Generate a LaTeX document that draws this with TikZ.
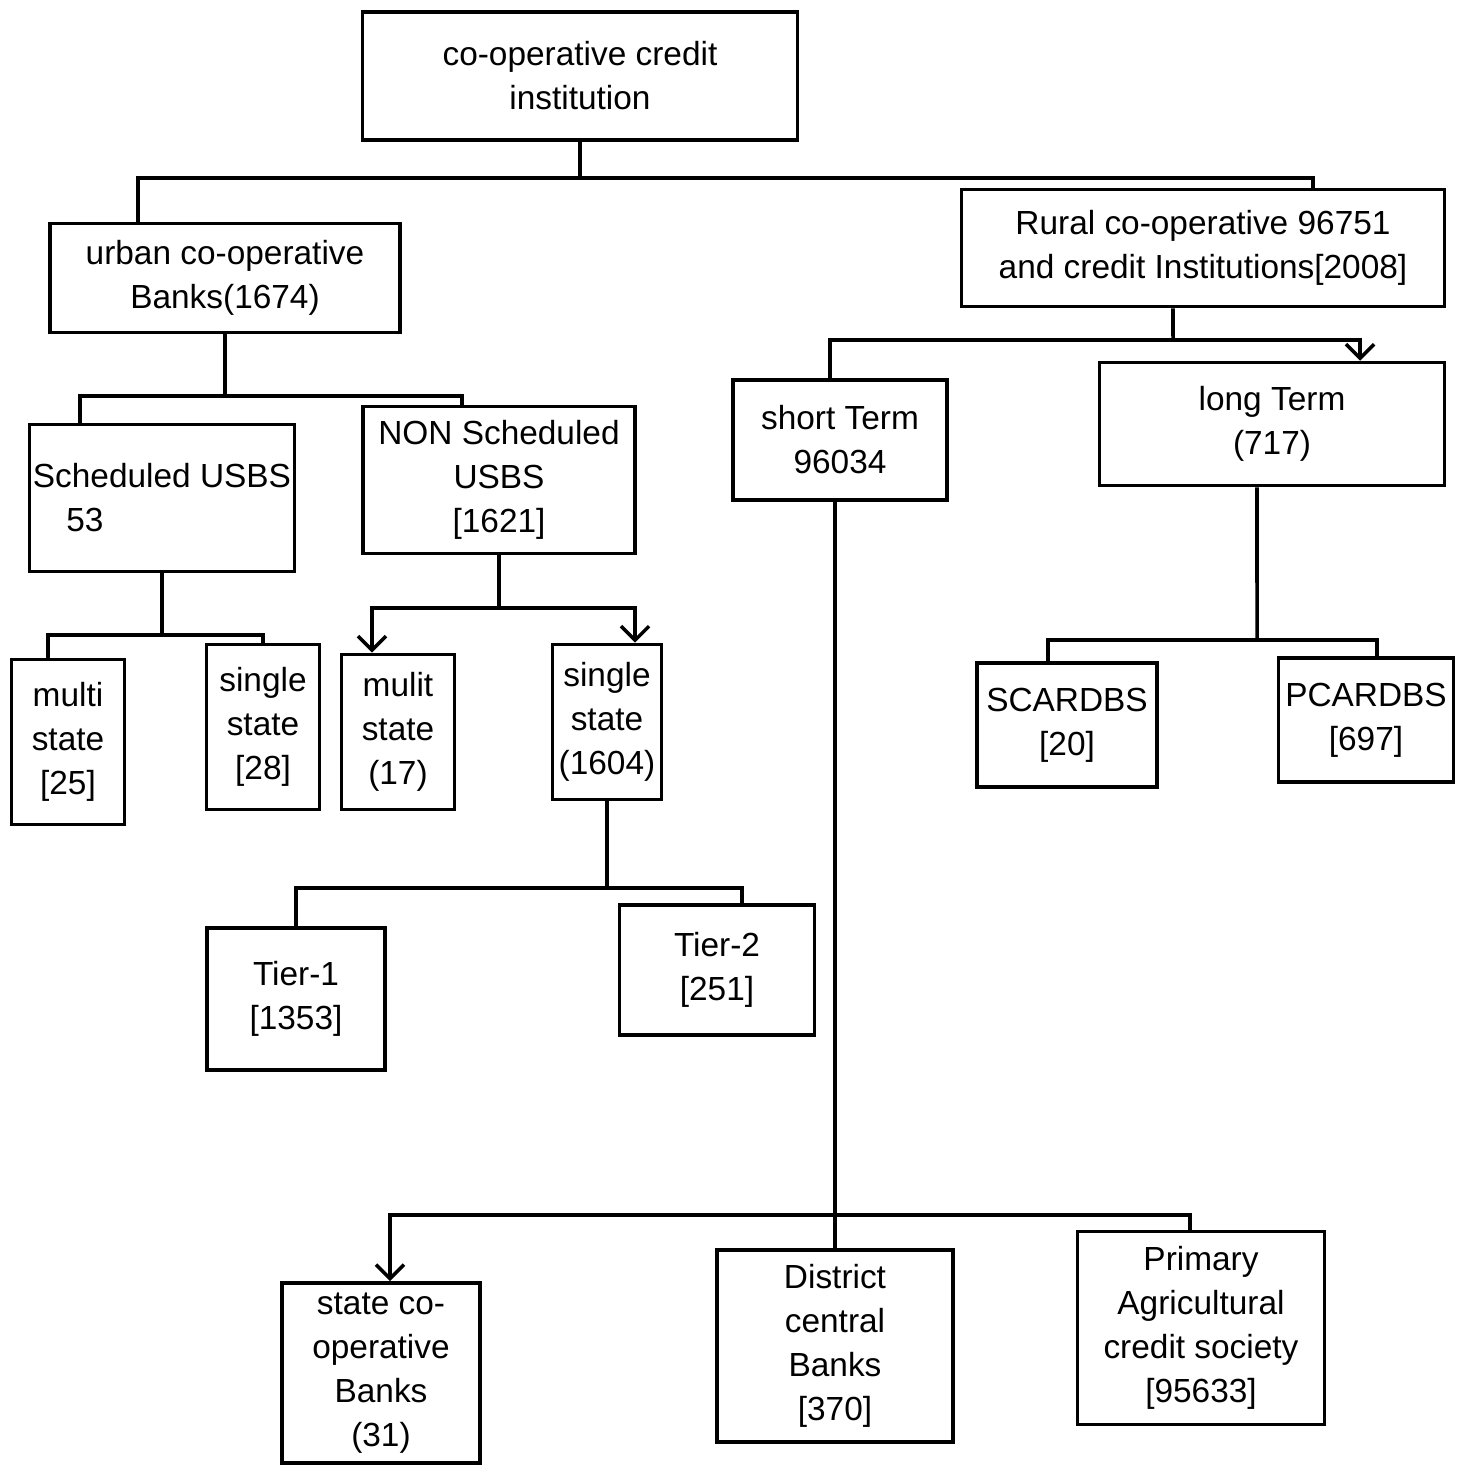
\documentclass[tikz,border=0pt]{standalone}
\usepackage{fontspec}
\setmainfont{Liberation Sans}
\usetikzlibrary{arrows.meta}

\begin{document}
\begin{tikzpicture}[x=0.01cm, y=-0.01cm, line width=1pt,
	box/.style={draw, rectangle, align=center, inner sep=1pt, font=\fontsize{9.5}{12.5}\selectfont},
	pointer/.style={-{Straight Barb[length=4pt]}}]
			\useasboundingbox (0,0) rectangle (1457,1466);
			\node[box, minimum width=4.35cm, minimum height=1.28cm] (root)     at (580 ,   76)  {co-operative credit\\ institution};
			\node[box, minimum width=3.50cm, minimum height=1.09cm] (urban)    at (225 ,  278)  {urban co-operative\\ Banks(1674)};
			\node[box, minimum width=4.83cm, minimum height=1.17cm] (rural)    at (1203,  248)  {Rural co-operative 96751\\ and credit Institutions[2008]};
			\node[box, minimum width=2.65cm, minimum height=1.47cm, align=left] (sched) at (162, 498) {Scheduled USBS\\ \quad 53};
			\node[box, minimum width=2.72cm, minimum height=1.47cm] (nonsched) at (499 ,  480)  {NON Scheduled\\ USBS\\ {[1621]}};
			\node[box, minimum width=1.13cm, minimum height=1.65cm] (multiA)   at (68  ,  742)  {multi\\ state\\ {[25]}};
			\node[box, minimum width=1.13cm, minimum height=1.65cm] (singleA)  at (263 ,  727)  {single\\ state\\ {[28]}};
			\node[box, minimum width=1.13cm, minimum height=1.55cm] (multiB)   at (398 ,  732)  {mulit\\ state\\ (17)};
			\node[box, minimum width=1.09cm, minimum height=1.55cm] (singleB)  at (607 ,  722)  {single\\ state\\ (1604)};
			\node[box, minimum width=1.78cm, minimum height=1.42cm] (tierA)    at (296 ,  999)  {Tier-1\\ {[1353]}};
			\node[box, minimum width=1.95cm, minimum height=1.30cm] (tierB)    at (717 ,  970)  {Tier-2\\ {[251]}};
			\node[box, minimum width=2.14cm, minimum height=1.20cm] (short)    at (840 ,  440)  {short Term\\ 96034};
			\node[box, minimum width=3.45cm, minimum height=1.23cm] (long)     at (1272,  424)  {long Term\\ (717)};
			\node[box, minimum width=1.80cm, minimum height=1.24cm] (scardbs)  at (1067,  725)  {SCARDBS\\ {[20]}};
			\node[box, minimum width=1.75cm, minimum height=1.24cm] (pcardbs)  at (1366,  720)  {PCARDBS\\ {[697]}};
			\node[box, minimum width=1.98cm, minimum height=1.80cm] (state)    at (381 , 1373)  {state co-\\ operative\\ Banks\\ (31)};
			\node[box, minimum width=2.36cm, minimum height=1.92cm] (district) at (835 , 1346)  {District\\ central\\ Banks\\ {[370]}};
			\node[box, minimum width=2.47cm, minimum height=1.93cm] (primary)  at (1201, 1328)  {Primary\\ Agricultural\\ credit society\\ {[95633]}};
			
			% branch points
			\coordinate (j1) at (580 ,  178);
			\coordinate (j2) at (225 ,  396);
			\coordinate (j3) at (162 ,  635);
			\coordinate (j4) at (499 ,  608);
			\coordinate (j5) at (607 ,  888);
			\coordinate (j6) at (1173,  340);
			\coordinate (j7) at (1257,  640);
			\coordinate (j8) at (835 , 1215);
			
			\def\stems {root/j1/0, urban/j2/0, sched/j3/0, nonsched/j4/0, singleB/j5/0, rural/j6/-0.3, long/j7/-0.15, short/j8/-0.05}  % down to branch point
			\foreach \u/\j/\s in \stems
			{	\draw ([xshift=\s cm]\u.south) -- (\j);
			}
			\def\plain {j1/urban/-0.87, j1/rural/1.1, j2/sched/-0.82, j2/nonsched/-0.37, j3/multiA/-0.2, j3/singleA/0, j5/tierA/0, j5/tierB/0.25, j6/short/-0.1, j7/scardbs/-0.19, j7/pcardbs/0.11, j8/district/0, j8/primary/-0.11}  % plain drops
			\foreach \j/\v/\s in \plain
			{	\draw (\j) -| ([xshift=\s cm]\v.north);
			}
			\def\arrowed {j4/multiB/-0.26, j4/singleB/0.28, j6/long/0.88, j8/state/0.09}  % drops with a tip
			\foreach \j/\v/\s in \arrowed
			{	\draw[pointer] (\j) -| ([xshift=\s cm]\v.north);
			}
		\end{tikzpicture}
\end{document}
